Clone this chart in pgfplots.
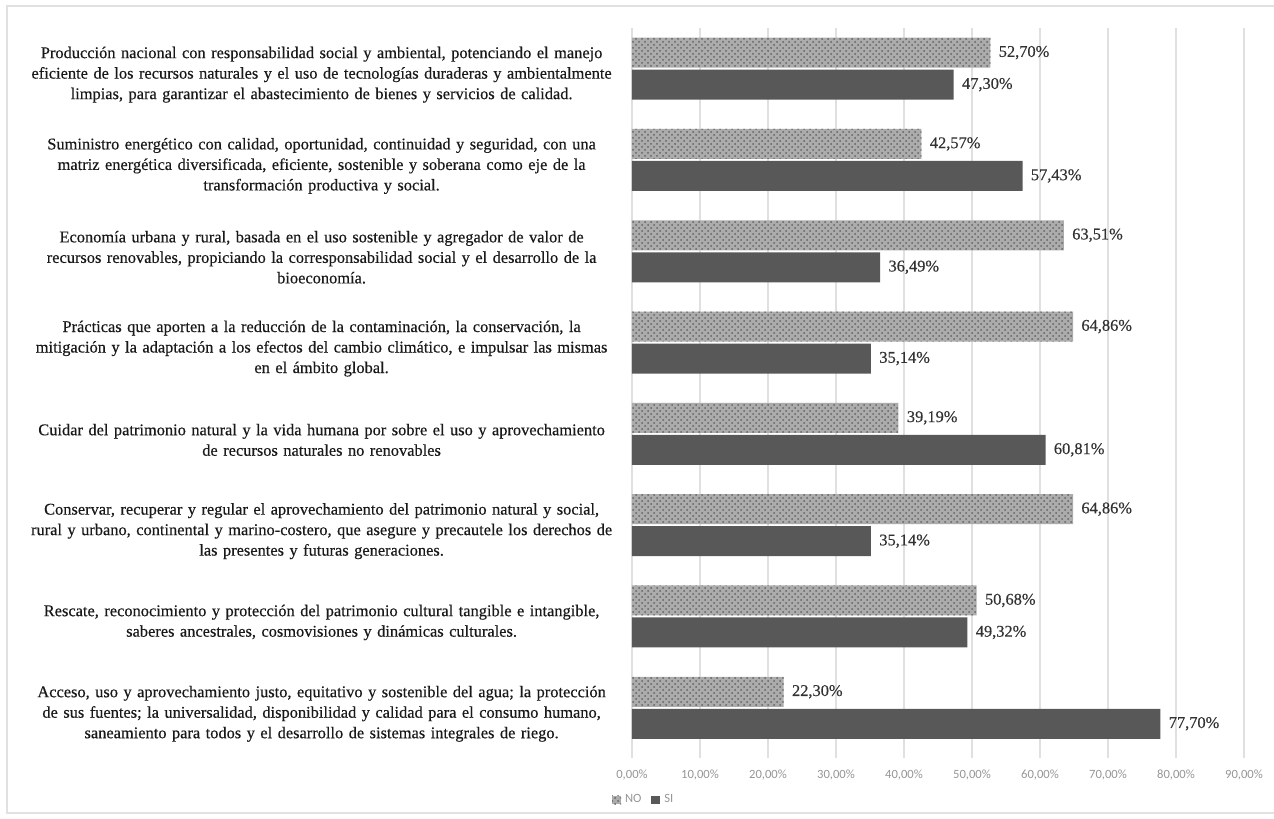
\documentclass[border=0pt]{standalone}
\usepackage{fontspec}
\setmainfont{Liberation Serif}
\newfontfamily\labfont[FakeBold=0.4]{Liberation Serif}
\newfontfamily\tickfont{Carlito}
\usepackage{pgfplots}
\pgfplotsset{compat=1.18}
\usetikzlibrary{patterns}

\definecolor{sibar}{RGB}{88,88,88}
\definecolor{nobase}{RGB}{172,172,172}
\definecolor{nodots}{RGB}{100,100,100}
\definecolor{gridc}{RGB}{224,224,224}
\definecolor{tickc}{RGB}{150,150,150}
\definecolor{valc}{RGB}{50,50,50}
\definecolor{labc}{RGB}{25,25,25}
\definecolor{framec}{RGB}{225,225,225}

\begin{document}
\begin{tikzpicture}[x=1pt,y=1pt]
\path[use as bounding box] (0,0) rectangle (637,409.5);
\draw[framec, line width=0.8pt] (3.5,3) rectangle (645,406.5);
\begin{axis}[
  at={(316pt,30.5pt)}, anchor=south west,
  x=3.4pt, y=45.65pt,
  xmin=0, xmax=90, ymin=-0.55, ymax=7.45,
  xbar, bar width=15pt,
  /pgf/number format/assume math mode=true,
  axis line style={draw=none},
  xmajorgrids, major grid style={gridc, line width=0.6pt},
  major tick length=0pt,
  xtick={0,10,...,90},
  xticklabel={\pgfmathprintnumber[fixed,fixed zerofill,precision=2,use comma]{\tick}\%},
  xticklabel style={font=\tickfont\fontsize{6.3}{7}\selectfont, text=tickc, yshift=-2.5pt},
  ytick={0,...,7},
  yticklabels={
    {Acceso, uso y aprovechamiento justo, equitativo y sostenible del agua; la protección\\de sus fuentes; la universalidad, disponibilidad y calidad para el consumo humano,\\saneamiento para todos y el desarrollo de sistemas integrales de riego.},
    {Rescate, reconocimiento y protección del patrimonio cultural tangible e intangible,\\saberes ancestrales, cosmovisiones y dinámicas culturales.},
    {Conservar, recuperar y regular el aprovechamiento del patrimonio natural y social,\\rural y urbano, continental y marino-costero, que asegure y precautele los derechos de\\las presentes y futuras generaciones.},
    {Cuidar del patrimonio natural y la vida humana por sobre el uso y aprovechamiento\\de recursos naturales no renovables},
    {Prácticas que aporten a la reducción de la contaminación, la conservación, la\\mitigación y la adaptación a los efectos del cambio climático, e impulsar las mismas\\en el ámbito global.},
    {Economía urbana y rural, basada en el uso sostenible y agregador de valor de\\recursos renovables, propiciando la corresponsabilidad social y el desarrollo de la\\bioeconomía.},
    {Suministro energético con calidad, oportunidad, continuidad y seguridad, con una\\matriz energética diversificada, eficiente, sostenible y soberana como eje de la\\transformación productiva y social.},
    {Producción nacional con responsabilidad social y ambiental, potenciando el manejo\\eficiente de los recursos naturales y el uso de tecnologías duraderas y ambientalmente\\limpias, para garantizar el abastecimiento de bienes y servicios de calidad.}
  },
  yticklabel style={font=\labfont\fontsize{8.2}{10.25}\selectfont, text=labc, align=center, text width=295pt, anchor=east, inner sep=0pt, xshift=-7.5pt, yshift=-3pt},
  point meta=x,
  nodes near coords={\pgfmathprintnumber[fixed,fixed zerofill,precision=2,use comma]{\pgfplotspointmeta}\%},
  nodes near coords style={font=\labfont\fontsize{8.2}{10}\selectfont, text=valc, inner sep=4pt},
  legend style={at={(axis description cs:-0.033,-0.0575)}, anchor=west, draw=none, fill=none,
    font=\tickfont\fontsize{6.3}{7}\selectfont, text=tickc, inner sep=0pt,
    /tikz/every even column/.append style={column sep=3pt}},
  legend columns=2,
  legend image code/.code={\fill[#1] (0pt,-2.2pt) rectangle (4.4pt,2.2pt);},
]
\addplot[fill=nobase, draw=none, bar shift=8pt, postaction={pattern=crosshatch dots, pattern color=nodots}]
  coordinates {(22.30,0) (50.68,1) (64.86,2) (39.19,3) (64.86,4) (63.51,5) (42.57,6) (52.70,7)};
\addlegendentry{NO}
\addplot[fill=sibar, draw=none, bar shift=-8pt]
  coordinates {(77.70,0) (49.32,1) (35.14,2) (60.81,3) (35.14,4) (36.49,5) (57.43,6) (47.30,7)};
\addlegendentry{SI}
\end{axis}
\end{tikzpicture}
\end{document}
